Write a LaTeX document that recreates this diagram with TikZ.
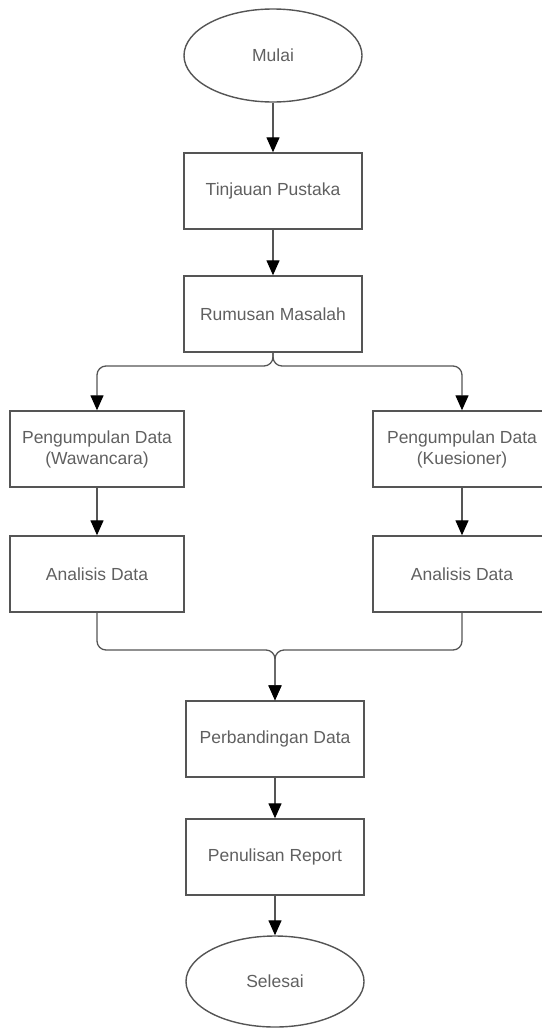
\documentclass[tikz,border=0pt]{standalone}
\usepackage{fontspec}
\setmainfont{Liberation Sans}
\usetikzlibrary{shapes.geometric,arrows.meta}
\definecolor{linegray}{HTML}{555555}
\definecolor{textgray}{HTML}{606060}

\tikzset{
  stepbox/.style={draw=linegray, line width=1.4pt, minimum width=178pt, minimum height=76pt,
    inner sep=0pt, text=textgray, font=\fontsize{17.5}{21}\selectfont, align=center},
  sidebox/.style={stepbox, minimum width=174pt},
  terminal/.style={stepbox, ellipse, minimum height=93pt},
  flow/.style={draw=linegray, line width=1.3pt, rounded corners=9pt,
    -{Triangle[length=15pt,width=13pt,color=black]}},
}

\begin{document}
\begin{tikzpicture}[x=1pt, y=-1pt]
\useasboundingbox (0,0) rectangle (541,1028);

% kolom tengah
\node [terminal] (mulai) at (273,55.5) {Mulai};
\node [stepbox] (tinjauan) at (273,191) {Tinjauan Pustaka};
\node [stepbox] (rumusan) at (273,314) {Rumusan Masalah};

% dua cabang
\node [sidebox] (wawancara) at (97,449) {Pengumpulan Data\\(Wawancara)};
\node [stepbox] (kuesioner) at (462,449) {Pengumpulan Data\\(Kuesioner)};
\node [sidebox] (analisis1) at (97,574) {Analisis Data};
\node [stepbox] (analisis2) at (462,574) {Analisis Data};

\node [stepbox] (perbandingan) at (275,739) {Perbandingan Data};
\node [stepbox] (penulisan) at (275,857) {Penulisan Report};
\node [terminal, minimum height=91pt] (selesai) at (275,981.5) {Selesai};

\coordinate (cabang) at (273,366);
\coordinate (gabung) at (275,650);

\draw [flow] (mulai) -- (tinjauan);
\draw [flow] (tinjauan) -- (rumusan);
\draw [flow] (rumusan.south) -- (cabang) -| (wawancara.north);
\draw [flow] (rumusan.south) -- (cabang) -| (kuesioner.north);
\draw [flow] (wawancara) -- (analisis1);
\draw [flow] (kuesioner) -- (analisis2);
\draw [flow] (analisis1.south) |- (gabung) -- (perbandingan.north);
\draw [flow] (analisis2.south) |- (gabung) -- (perbandingan.north);
\draw [flow] (perbandingan) -- (penulisan);
\draw [flow] (penulisan) -- (selesai);
\end{tikzpicture}
\end{document}
